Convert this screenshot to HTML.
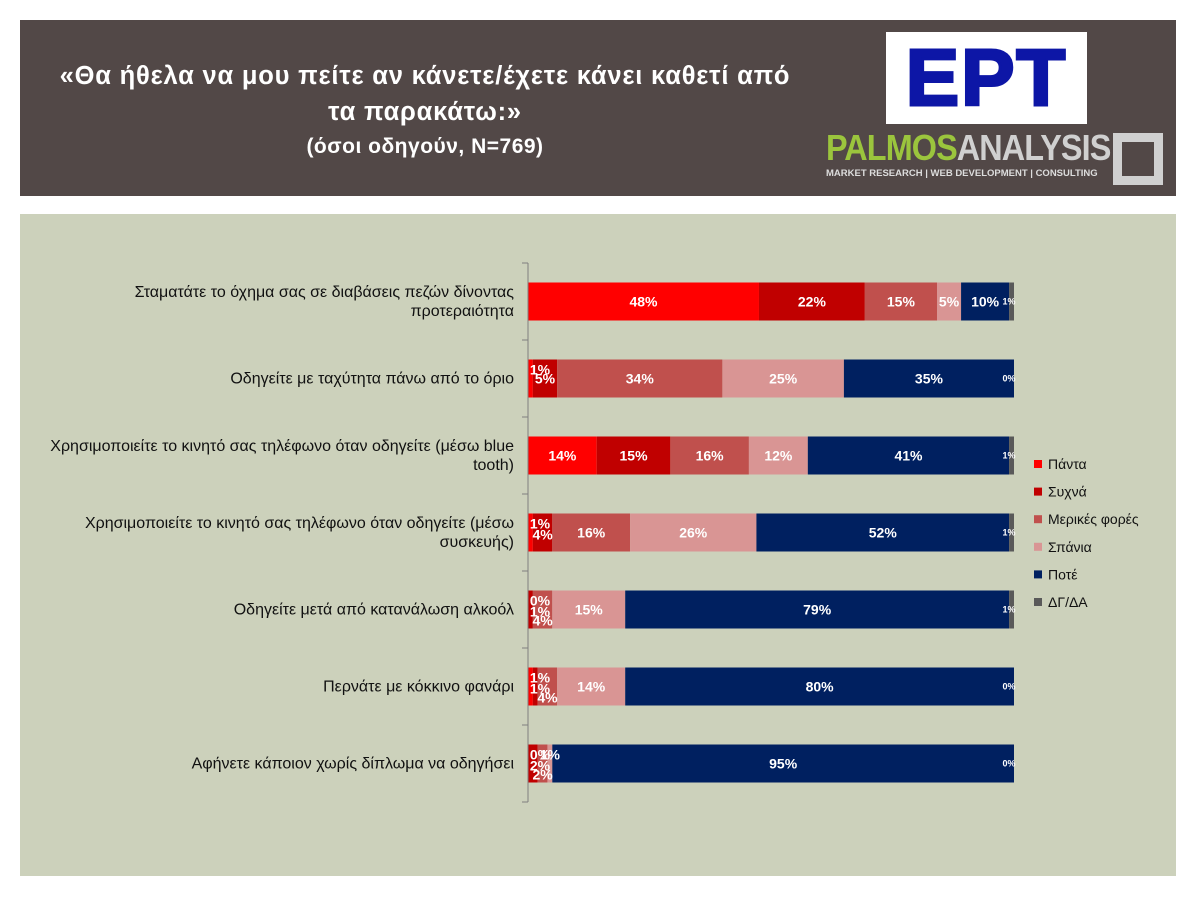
<!DOCTYPE html>
<html><head><meta charset="utf-8">
<style>
body{margin:0;width:1200px;height:900px;background:#fff;font-family:"Liberation Sans","DejaVu Sans",sans-serif;position:relative;overflow:hidden}
#hdr{position:absolute;left:20px;top:20px;width:1156px;height:176px;background:#524847}
.t{position:absolute;left:0;width:810px;text-align:center;color:#fff;font-weight:bold}
#panel{position:absolute;left:20px;top:214px;width:1156px;height:662px;background:#ccd1bb}
</style></head><body>
<div id="hdr">
<div class="t" style="top:42px;font-size:25.5px;letter-spacing:0.8px">«Θα ήθελα να μου πείτε αν κάνετε/έχετε κάνει καθετί από</div>
<div class="t" style="top:78px;font-size:25.5px;letter-spacing:0.8px">τα παρακάτω:»</div>
<div class="t" style="top:115px;font-size:21px;letter-spacing:0.5px">(όσοι οδηγούν, N=769)</div>
<div style="position:absolute;left:866px;top:12px;width:201px;height:92px;background:#fff;text-align:center;font:900 80px/92px 'Liberation Sans',sans-serif;color:#0d16a6;letter-spacing:2px;-webkit-text-stroke:3px #0d16a6">EPT</div>
<div style="position:absolute;left:806px;top:108px;font:bold 36px/40px 'Liberation Sans',sans-serif;transform:scaleX(0.9);transform-origin:left top;letter-spacing:-1px"><span style="color:#9bc53d">PALMOS</span><span style="color:#d0d0d0">ANALYSIS</span></div>
<div style="position:absolute;left:806px;top:148px;font:bold 9.5px 'Liberation Sans',sans-serif;color:#ddd">MARKET RESEARCH | WEB DEVELOPMENT | CONSULTING</div>
<div style="position:absolute;left:1093px;top:113px;width:32px;height:34px;border:9px solid #d0d0d0"></div>
</div>
<div id="panel"></div>
<svg id="chart" width="1200" height="900" style="position:absolute;left:0;top:0"></svg>
<script>
const categories=["Σταματάτε το όχημα σας σε διαβάσεις πεζών δίνοντας|προτεραιότητα","Οδηγείτε με ταχύτητα πάνω από το όριο","Χρησιμοποιείτε το κινητό σας τηλέφωνο όταν οδηγείτε (μέσω blue|tooth)","Χρησιμοποιείτε το κινητό σας τηλέφωνο όταν οδηγείτε (μέσω|συσκευής)","Οδηγείτε μετά από κατανάλωση αλκοόλ","Περνάτε με κόκκινο φανάρι","Αφήνετε κάποιον χωρίς δίπλωμα να οδηγήσει"];
const seriesNames=["Πάντα","Συχνά","Μερικές φορές","Σπάνια","Ποτέ","ΔΓ/ΔΑ"];
const pantaVals=[48,1,14,1,0,1,0];
const sychnaVals=[22,5,15,4,1,1,2];
const merikesVals=[15,34,16,16,4,4,2];
const spaniaVals=[5,25,12,26,15,14,1];
const poteVals=[10,35,41,52,79,80,95];
const dkVals=[1,0,1,1,1,0,0];
const series=[pantaVals,sychnaVals,merikesVals,spaniaVals,poteVals,dkVals];
const colors=["#ff0000","#c00000","#c0504d","#d99594","#002060","#595959"];
const NS="http://www.w3.org/2000/svg",svg=document.getElementById('chart');
const x0=528,x1=1014,top0=263,rowH=77,barH=38;
function mk(t,a){const e=document.createElementNS(NS,t);for(const k in a)e.setAttribute(k,a[k]);svg.appendChild(e);return e;}
function xs(v,tot){return (x1-x0)*v/tot;}
const labels=[];
categories.forEach((c,i)=>{
  const cy=top0+rowH*(i+0.5);
  const tot=series.reduce((s,a)=>s+a[i],0);
  let x=x0,small=0;
  series.forEach((arr,j)=>{
    const w=xs(arr[i],tot);
    const r=mk('rect',{x:x,y:cy-barH/2,width:Math.max(w,0),height:barH,fill:colors[j]});
    
    
    let ly=cy+5,fs=14,lx=x+w/2;
    if(j==5){fs=9;lx=x1-5;ly=cy+3;}
    else if(arr[i]<=4){ly=cy+5+[-9,2,11][small%3];small++;if(lx<x0+12)lx=x0+12;}
    labels.push([lx,ly,fs,arr[i]+'%']);
    x+=w;
  });
  const lines=c.split('|');
  lines.forEach((l,k)=>{
    const t=mk('text',{x:514,y:cy+5+(k-(lines.length-1)/2)*19,'text-anchor':'end','font-size':16,fill:'#111'});
    t.textContent=l;
    
    
  });
});
labels.forEach(L=>{
  const t=mk('text',{x:L[0],y:L[1],'text-anchor':'middle','font-size':L[2],'font-weight':'bold',fill:'#fff'});
  t.textContent=L[3];
  
  
});
const ax=mk('line',{x1:x0,y1:top0,x2:x0,y2:top0+rowH*7,stroke:'#7f7f7f'});


for(let k=0;k<=7;k++){const tk=mk('line',{x1:x0-6,y1:top0+rowH*k,x2:x0,y2:top0+rowH*k,stroke:'#7f7f7f'});

}
seriesNames.forEach((n,j)=>{
  const y=464+j*27.6;
  const r=mk('rect',{x:1034,y:y-4,width:8,height:8,fill:colors[j]});
  
  
  const t=mk('text',{x:1048,y:y+5,'font-size':14,fill:'#111'});
  t.textContent=n;
  
  
});
</script>
</body></html>
